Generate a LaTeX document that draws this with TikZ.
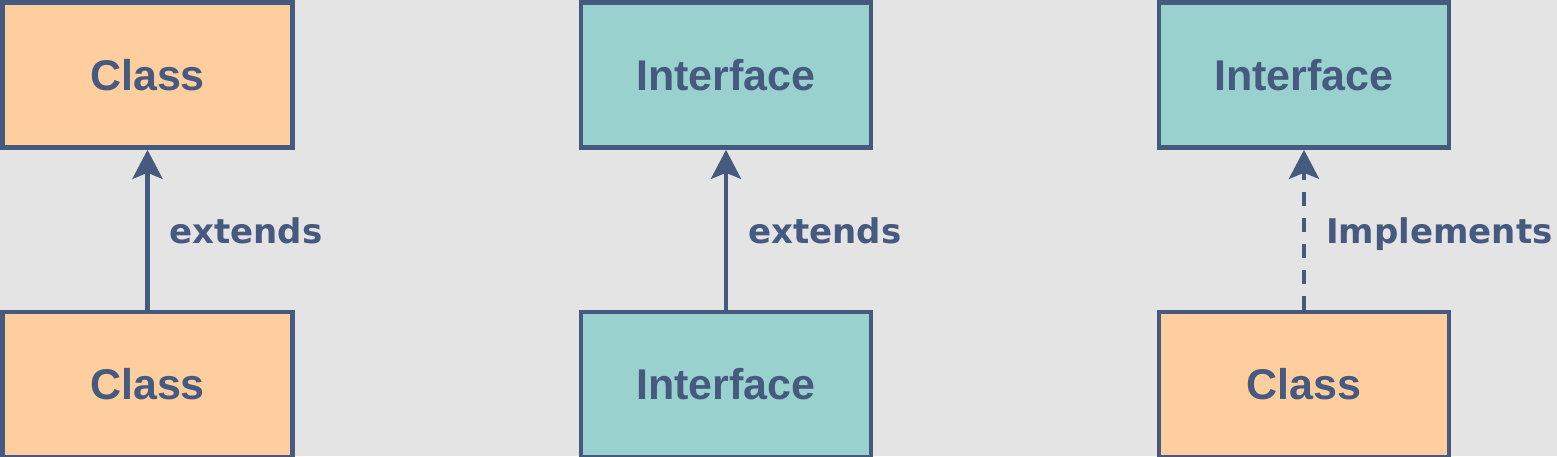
\documentclass[tikz,border=0pt]{standalone}
\usepackage{fontspec}
\newfontfamily\boxfont{Liberation Sans}
\newfontfamily\labfont{DejaVu Sans}
\usetikzlibrary{arrows.meta}
\definecolor{bg}{HTML}{E4E4E4}
\definecolor{ink}{HTML}{465A80}
\definecolor{orangefill}{HTML}{FFCE9F}
\definecolor{tealfill}{HTML}{98D1CD}
\begin{document}
\begin{tikzpicture}[x=1pt,y=-1pt,
  umlbox/.style={draw=ink, line width=4.6pt, minimum width=290pt, minimum height=145pt,
    inner sep=0pt, text=ink, font=\boxfont\bfseries\fontsize{43}{50}\selectfont},
  classbox/.style={umlbox, fill=orangefill},
  ifacebox/.style={umlbox, fill=tealfill},
  rel/.style={draw=ink, line width=4.4pt, -{Stealth[length=29pt,width=30pt,inset=6pt]}},
  lbl/.style={anchor=base west, text=ink, inner sep=0pt, font=\labfont\bfseries\fontsize{34}{40}\selectfont}]
\useasboundingbox (0,0) rectangle (1557,456);
\clip (0,0) rectangle (1557,456);
\fill[bg] (0,0) rectangle (1557,456);

\node[classbox] (c1top) at (147.5,75) {Class};
\node[classbox] (c1bot) at (147.5,384.5) {Class};
\draw[rel] (c1bot) -- (c1top);
\node[lbl] (l1) at (169,243) {extends};

\node[ifacebox] (i2top) at (726,75) {Interface};
\node[ifacebox] (i2bot) at (726,384.5) {Interface};
\draw[rel] (i2bot) -- (i2top);
\node[lbl] (l2) at (748,243) {extends};

\node[ifacebox] (i3top) at (1304,75) {Interface};
\node[classbox] (c3bot) at (1304,384.5) {Class};
\draw[rel, dash pattern=on 14pt off 12pt] (c3bot) -- (i3top);
\node[lbl] (l3) at (1326,243) {Implements};
\end{tikzpicture}
\end{document}
